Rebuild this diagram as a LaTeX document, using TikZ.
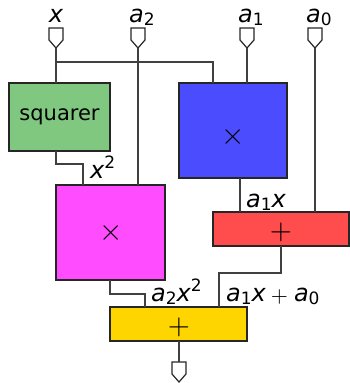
\documentclass[tikz,border=0pt]{standalone}
\usepackage{fontspec}
\setmainfont{DejaVu Sans}
\definecolor{wirec}{HTML}{404040}
\definecolor{sqgreen}{HTML}{80C880}
\definecolor{mulblue}{HTML}{4C4CFF}
\definecolor{mulmag}{HTML}{FF4CFF}
\definecolor{addred}{HTML}{FF4C4C}
\definecolor{addyel}{HTML}{FFD500}
\newcommand{\mysub}[1]{\raisebox{-3pt}{\fontsize{17}{17}\selectfont\upshape #1}}
\newcommand{\mysup}[1]{\raisebox{9.5pt}{\fontsize{17}{17}\selectfont\upshape #1}}
\newcommand{\vr}[1]{{\itshape #1}}
\newcommand{\bigtimes}{\scalebox{3.0}{$\times$}}
\newcommand{\bigplus}{\scalebox{2.85}{$+$}}
\newcommand{\midplus}{\scalebox{2.2}{\normalsize$+$}}
\begin{document}
\begin{tikzpicture}[x=1pt,y=-1pt,
  wire/.style={draw=wirec,line width=1.3pt},
  box/.style={draw=black!85,line width=1.3pt,inner sep=0pt,outer sep=0pt},
  port/.style={draw=black!85,fill=white,line width=1.2pt,line join=miter},
  lbl/.style={font=\fontsize{24}{28}\selectfont,inner sep=0pt},
  op/.style={inner sep=0pt,font=\normalsize}]
\useasboundingbox (0,0) rectangle (349,383);
% boxes
\node[box,fill=sqgreen,minimum width=101pt,minimum height=68pt,font=\fontsize{21}{25}\selectfont] (sq) at (59.5,117) {squarer};
\node[box,fill=mulblue,minimum width=108pt,minimum height=95pt] (bl) at (233,130.5) {};
\node[box,fill=mulmag,minimum width=109pt,minimum height=95pt] (mg) at (110.5,232.5) {};
\node[box,fill=addred,minimum width=136pt,minimum height=34pt] (rd) at (281,229) {};
\node[box,fill=addyel,minimum width=137pt,minimum height=34pt] (ye) at (178.5,324) {};
% operators
\node[op] (blop) at (233,137) {\bigtimes};
\node[op] (mgop) at (111,233) {\bigtimes};
\node[op] (rdop) at (281,232) {\bigplus};
\node[op] (yeop) at (179,327) {\bigplus};
% input ports
\foreach \n/\px in {px/56,pa2/138,pa1/247,pa0/315}{
  \draw[port] (\px-7,28) -- (\px+7,28) -- (\px+7,40) -- (\px,48) -- (\px-7,40) -- cycle;
  \coordinate (\n) at (\px,48);
}
% output port
\draw[port] (172,362) -- (186,362) -- (186,374) -- (179,382) -- (172,374) -- cycle;
\coordinate (pout) at (179,362);
% top labels
\node[lbl,anchor=base] (lx) at (56,22) {\vr{x}};
\node[lbl,anchor=base] (la2) at (142,22) {\vr{a}\mysub{2}};
\node[lbl,anchor=base] (la1) at (251,22) {\vr{a}\mysub{1}};
\node[lbl,anchor=base] (la0) at (319,22) {\vr{a}\mysub{0}};
% wires
\coordinate (j) at (56,62);
\draw[wire] (px) -- (px |- sq.north);
\draw[wire] (j) -- (213,62) -- (213,83);
\draw[wire] (pa2) -- (pa2 |- mg.north);
\draw[wire] (pa1) -- (pa1 |- bl.north);
\draw[wire] (pa0) -- (pa0 |- rd.north);
\draw[wire] (56,151) -- (56,164) -- (83,164) -- (83,185);
\draw[wire] (240,178) -- (240,212);
\draw[wire] (281,246) -- (281,273) -- (219,273) -- (219,307);
\draw[wire] (110,280) -- (110,294) -- (145,294) -- (145,307);
\draw[wire] (179,341) -- (pout);
% wire labels
\node[lbl,anchor=base west] (lx2) at (90,178) {\vr{x}\mysup{2}};
\node[lbl,anchor=base west] (la1x) at (246,207) {\vr{a}\mysub{1}\vr{x}};
\node[lbl,anchor=base west] (la2x2) at (151,301) {\vr{a}\mysub{2}\vr{x}\mysup{2}};
\node[lbl,anchor=base west] (lsum) at (226,301) {\vr{a}\mysub{1}\vr{x}\hspace{5pt}\raisebox{-1pt}{\midplus}\hspace{6pt}\vr{a}\mysub{0}};
\end{tikzpicture}
\end{document}
